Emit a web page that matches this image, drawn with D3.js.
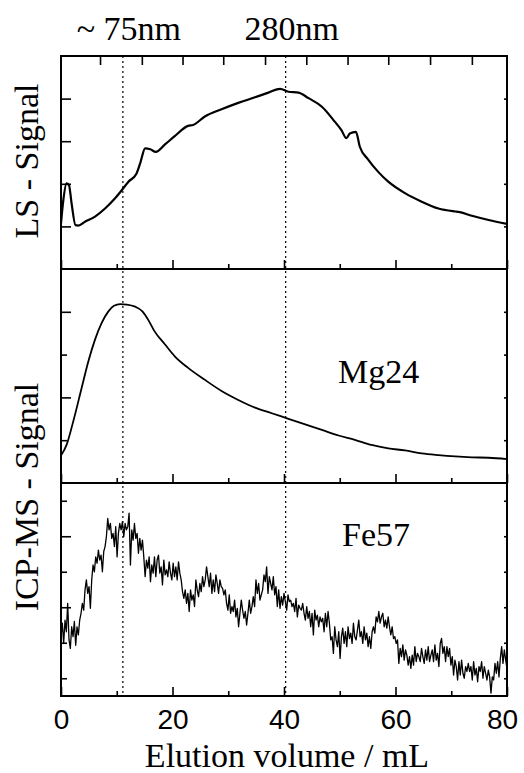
<!DOCTYPE html>
<html>
<head>
<meta charset="utf-8">
<script src="https://cdn.jsdelivr.net/npm/d3@7"></script>
<style>
  body { margin: 0; background: #fff; }
  .serif { font-family: "Liberation Serif", "Times New Roman", serif; font-size: 34px; fill: #000; }
  .tick text { font-family: "Liberation Sans", Arial, sans-serif; font-size: 28px; fill: #000; }
  .tick line { stroke: #000; stroke-width: 1.6; }
  .trace { fill: none; stroke: #000; stroke-linejoin: round; }
</style>
</head>
<body>
<script>
var w = 524;
var h = 773;

// LS detector trace (elution volume in mL, signal in arb. units)
var lsVolume = [0, 0.42, 1.0, 1.43, 1.9, 2.6, 3.1, 4.3, 6.1, 7.9, 9.7, 10.9, 12.1, 13.5, 14.2, 15.1,
  16.0, 17.0, 18.7, 20.4, 22.8, 23.7, 25.8, 28.8, 31.8, 34.8, 37.2, 39.3, 40.8, 42.6, 44.4, 46.8,
  49.1, 50.3, 51.2, 51.8, 52.9, 53.6, 55.1, 56.9, 58.7, 61.7, 64.7, 67.7, 70.7, 71.3, 73.7, 76.7, 80];
var lsSignal = [1.07, 1.62, 2.01, 1.97, 1.54, 1.03, 1.02, 1.11, 1.23, 1.42, 1.66, 1.85, 2.05, 2.23, 2.48, 2.83,
  2.81, 2.75, 2.93, 3.12, 3.36, 3.38, 3.58, 3.75, 3.90, 4.03, 4.14, 4.23, 4.16, 4.14, 4.01, 3.81,
  3.46, 3.26, 3.07, 3.18, 3.22, 2.87, 2.57, 2.28, 2.05, 1.78, 1.58, 1.42, 1.35, 1.34, 1.25, 1.15, 1.06];

// ICP-MS Mg24 trace
var mgVolume = [0, 1.0, 2.2, 3.7, 4.9, 6.1, 7.3, 8.5, 9.5, 10.6, 11.8, 13.3, 14.6, 15.7, 16.7, 18.7, 20.4, 22.8,
  25.8, 28.8, 31.8, 34.8, 37.8, 40.8, 43.8, 46.8, 49.8, 52.7, 55.7, 58.7, 61.7, 64.7, 67.7, 70.7, 73.7, 76.7, 80];
var mgSignal = [0.64, 0.89, 1.44, 2.22, 2.84, 3.35, 3.74, 4.01, 4.14, 4.18, 4.17, 4.12, 4.01, 3.80, 3.56, 3.23, 2.96, 2.69,
  2.41, 2.15, 1.94, 1.76, 1.63, 1.50, 1.37, 1.24, 1.11, 1.01, 0.89, 0.81, 0.76, 0.69, 0.65, 0.62, 0.60, 0.59, 0.56];

// ICP-MS Fe57 trace, sampled evenly from 0 to 80 mL
var feSignal = [
  16.7, 20.5, 14.8, 21.4, 18.1, 26.1, 15.8, 13.4, 19.5, 16.7, 21.0, 14.3, 19.5, 17.2, 21.4, 23.3, 26.1, 24.2, 29.9, 32.7, 28.9,
  30.8, 24.7, 32.7, 36.9, 35.0, 39.2, 37.4, 41.1, 38.3, 39.7, 35.0, 40.7, 42.1, 44.9, 50.0, 46.8, 48.6, 44.4, 45.8, 42.1, 47.7, 39.2, 45.8, 48.6, 46.8,
  49.1, 44.9, 48.6, 46.8, 47.7, 51.5, 36.9, 46.8, 43.9, 48.6, 44.4, 45.8, 40.2, 44.4, 41.1, 43.9, 39.2, 33.6, 38.3, 36.0, 39.2, 32.2, 36.9, 34.6, 39.2,
  33.6, 38.3, 39.7, 34.6, 36.4, 31.3, 38.3, 34.1, 35.5, 33.6, 37.8, 34.6, 32.7, 37.4, 33.6, 36.4, 32.7, 37.8, 34.6, 32.7, 29.4, 27.5, 29.9, 26.1, 28.9,
  23.8, 29.9, 27.0, 28.5, 25.2, 32.7, 29.9, 28.0, 31.7, 29.4, 33.6, 30.8, 32.7, 36.4, 33.6, 30.8, 34.6, 28.9, 32.7, 29.4, 34.1, 31.7, 28.9, 32.7, 30.8,
  30.3, 28.5, 29.9, 26.1, 24.2, 28.5, 23.3, 25.2, 23.8, 27.0, 22.3, 24.7, 19.5, 23.3, 27.0, 24.2, 21.9, 23.8, 20.0, 23.3, 27.0, 23.3, 25.2, 28.0, 25.2,
  32.7, 28.9, 31.7, 27.0, 28.5, 29.9, 34.1, 32.2, 36.4, 28.9, 33.6, 31.7, 29.9, 33.6, 28.5, 30.8, 25.2, 29.9, 24.7, 28.0, 25.6, 28.9, 26.6, 24.2, 28.5,
  26.6, 27.0, 25.2, 26.1, 23.8, 27.5, 22.3, 25.6, 24.7, 24.2, 26.1, 23.3, 21.4, 25.2, 21.9, 23.8, 19.5, 23.3, 17.2, 24.2, 21.4, 22.8, 19.5, 22.3, 20.9,
  21.9, 18.1, 23.3, 19.5, 23.8, 20.5, 15.8, 16.7, 12.0, 19.5, 15.8, 13.9, 18.1, 10.6, 16.7, 19.1, 14.8, 18.1, 13.9, 19.5, 16.2, 17.7, 14.8, 20.5, 16.7,
  15.8, 18.6, 21.4, 16.7, 18.1, 14.8, 19.5, 15.8, 17.7, 13.9, 16.7, 13.4, 18.1, 19.5, 17.7, 22.3, 20.9, 23.8, 20.5, 22.3, 23.3, 19.5, 21.4, 19.1, 22.3,
  19.5, 17.2, 19.5, 16.2, 16.7, 14.8, 15.8, 9.2, 13.4, 11.1, 14.4, 10.1, 13.0, 11.5, 8.7, 11.1, 7.8, 11.5, 8.7, 13.9, 9.7, 12.0, 11.1, 9.7, 13.4,
  11.1, 9.2, 13.0, 10.1, 13.9, 9.7, 11.5, 13.0, 9.7, 14.4, 10.1, 12.0, 8.3, 14.8, 16.2, 12.0, 13.9, 9.7, 13.9, 11.1, 13.4, 8.7, 11.1, 5.9, 10.1,
  8.3, 4.5, 9.7, 5.9, 10.1, 6.4, 5.0, 8.3, 6.9, 9.2, 6.9, 8.3, 4.5, 9.7, 5.9, 7.8, 4.0, 8.3, 6.9, 9.7, 5.0, 8.3, 6.4, 4.5, 7.3,
  5.4, 0.8, 5.4, 4.5, 9.2, 6.4, 9.7, 5.4, 10.6, 13.9, 9.2, 13.0, 10.1, 7.8
];
var feVolume = feSignal.map(function(d, i) { return i * 80 / (feSignal.length - 1); });

var xMajor = [0, 20, 40, 60, 80];
var xMinor = [10, 30, 50, 70];
var topTicks = [7.0, 14.5, 21.8, 29.1, 36.6, 44.0, 51.4, 58.7, 66.2, 73.7];
var markerVolumes = [11.1, 40.3];
var markerLabels = ["~ 75nm", "280nm"];

var lsTicks = [1, 2, 3, 4];
var mgMajor = [2, 4];
var mgMinor = [1, 3];
var feMajor = [25, 45];
var feMinor = [5, 15, 35, 55];

var svg = d3.select("body")
    .append("svg")
    .attr("width", w)
    .attr("height", h);

svg.append("rect")
    .attr("width", w)
    .attr("height", h)
    .attr("fill", "#fff");

var xScale = d3.scaleLinear().domain([0, 80]).range([61, 507]);

var yLS = d3.scaleLinear().domain([0, 5]).range([269, 56]);
var yMg = d3.scaleLinear().domain([0, 5]).range([483, 269]);
var yFe = d3.scaleLinear().domain([0, 60]).range([696, 483]);

var panels = [
  { y: yLS, top: 56, bottom: 269, major: lsTicks, minor: [] },
  { y: yMg, top: 269, bottom: 483, major: mgMajor, minor: mgMinor },
  { y: yFe, top: 483, bottom: 696, major: feMajor, minor: feMinor }
];

// ticks on every panel, all pointing inward
panels.forEach(function(p, k) {
  var g = svg.append("g");

  g.append("g")
      .attr("transform", "translate(0," + p.bottom + ")")
      .call(d3.axisBottom(xScale).tickValues(xMajor).tickSize(-9).tickFormat(""));
  g.append("g")
      .attr("transform", "translate(0," + p.bottom + ")")
      .call(d3.axisBottom(xScale).tickValues(xMinor).tickSize(-5).tickFormat(""));

  g.append("g")
      .attr("transform", "translate(61,0)")
      .call(d3.axisLeft(p.y).tickValues(p.major).tickSize(-10).tickFormat(""));
  g.append("g")
      .attr("transform", "translate(61,0)")
      .call(d3.axisLeft(p.y).tickValues(p.minor).tickSize(-6).tickFormat(""));
  g.append("g")
      .attr("transform", "translate(507,0)")
      .call(d3.axisRight(p.y).tickValues(p.major.concat(p.minor)).tickSize(-3).tickFormat(""));

  g.selectAll(".domain").remove();

  g.append("rect")
      .attr("x", 61)
      .attr("y", p.top)
      .attr("width", 446)
      .attr("height", p.bottom - p.top)
      .attr("fill", "none")
      .attr("stroke", "#000")
      .attr("stroke-width", 2);
});

// top axis of the LS panel
var topAxis = svg.append("g")
    .attr("transform", "translate(0,56)")
    .call(d3.axisTop(xScale).tickValues(topTicks).tickSize(-9).tickFormat(""));
topAxis.select(".domain").remove();

// tick labels under the bottom panel
var labelAxis = svg.append("g")
    .attr("transform", "translate(0,696)")
    .call(d3.axisBottom(xScale).tickValues(xMajor).tickSize(0).tickPadding(13).tickFormat(d3.format("d")));
labelAxis.select(".domain").remove();
labelAxis.selectAll("text")
    .filter(function(d) { return d === 80; })
    .attr("dx", -5);

// dotted marker lines
svg.selectAll(".marker")
    .data(markerVolumes)
    .enter()
    .append("line")
    .attr("class", "marker")
    .attr("x1", function(d) { return xScale(d); })
    .attr("x2", function(d) { return xScale(d); })
    .attr("y1", 56)
    .attr("y2", 696)
    .attr("stroke", "#000")
    .attr("stroke-width", 1.2)
    .attr("stroke-dasharray", "2,3");

svg.selectAll(".markerLabel")
    .data(markerVolumes)
    .enter()
    .append("text")
    .attr("class", "serif")
    .attr("text-anchor", "middle")
    .attr("x", function(d) { return xScale(d) + 6; })
    .attr("y", 40)
    .text(function(d, i) { return markerLabels[i]; });

// traces
var lsLine = d3.line()
    .curve(d3.curveMonotoneX)
    .x(function(d, i) { return xScale(lsVolume[i]); })
    .y(function(d) { return yLS(d); });

var mgLine = d3.line()
    .curve(d3.curveMonotoneX)
    .x(function(d, i) { return xScale(mgVolume[i]); })
    .y(function(d) { return yMg(d); });

var feLine = d3.line()
    .x(function(d, i) { return xScale(feVolume[i]); })
    .y(function(d) { return yFe(d); });

svg.append("path")
    .datum(lsSignal)
    .attr("class", "trace")
    .attr("stroke-width", 2.2)
    .attr("d", lsLine);

svg.append("path")
    .datum(mgSignal)
    .attr("class", "trace")
    .attr("stroke-width", 1.8)
    .attr("d", mgLine);

svg.append("path")
    .datum(feSignal)
    .attr("class", "trace")
    .attr("stroke-width", 1.3)
    .attr("d", feLine);

// panel labels
svg.append("text")
    .attr("class", "serif")
    .attr("x", 338)
    .attr("y", 383)
    .text("Mg24");

svg.append("text")
    .attr("class", "serif")
    .attr("x", 342)
    .attr("y", 546)
    .text("Fe57");

// axis titles
svg.append("text")
    .attr("class", "serif")
    .attr("text-anchor", "middle")
    .attr("transform", "translate(38,161) rotate(-90)")
    .text("LS - Signal");

svg.append("text")
    .attr("class", "serif")
    .attr("text-anchor", "middle")
    .attr("transform", "translate(38,497) rotate(-90)")
    .text("ICP-MS - Signal");

svg.append("text")
    .attr("class", "serif")
    .attr("text-anchor", "middle")
    .attr("x", 287)
    .attr("y", 767)
    .text("Elution volume / mL");
</script>
</body>
</html>
